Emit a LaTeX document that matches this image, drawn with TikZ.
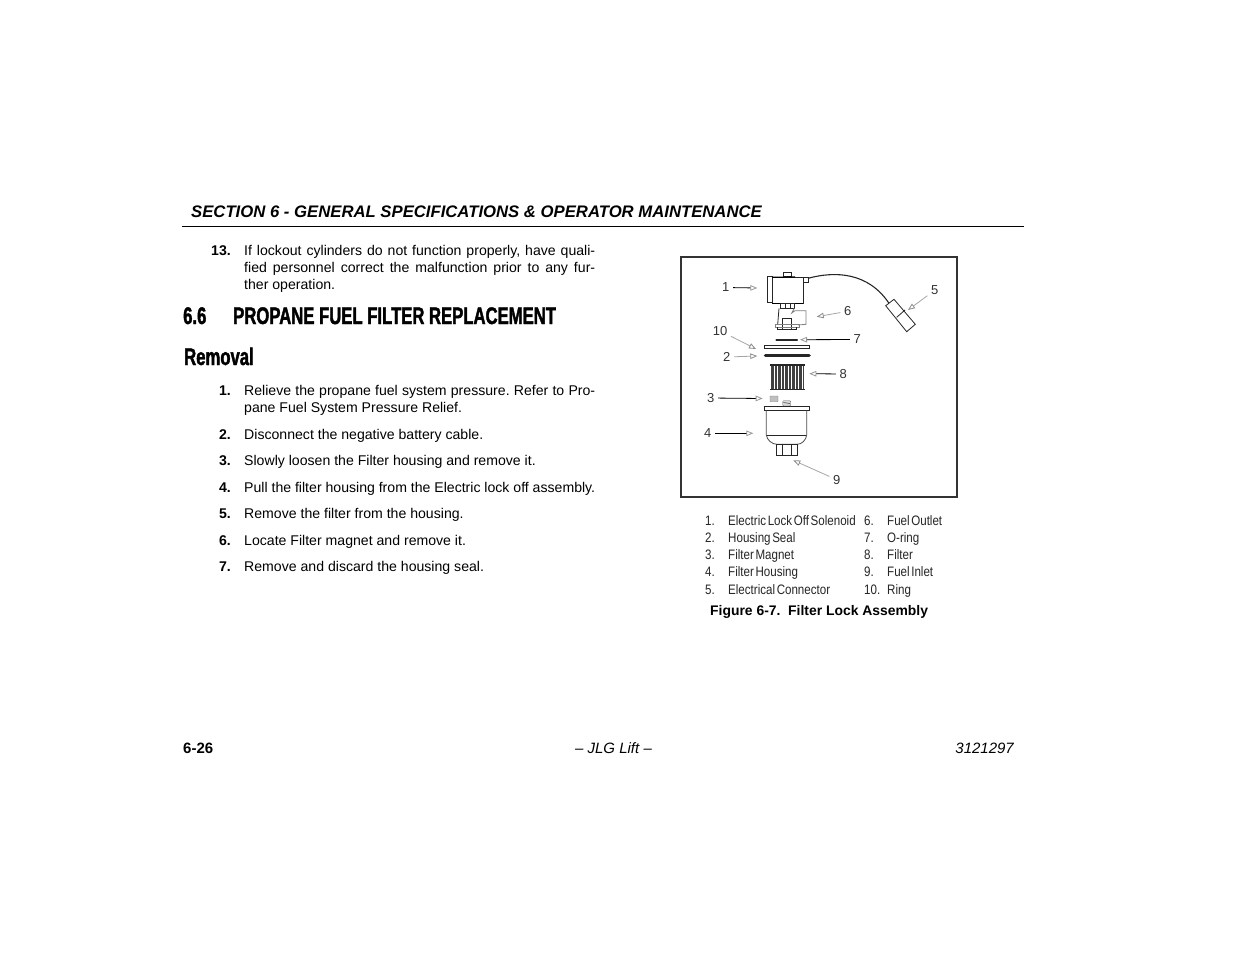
\documentclass[tikz,border=0pt]{standalone}
\usepackage{fontspec}
\setmainfont{Liberation Sans}
\frenchspacing
\newfontfamily\headfont[FakeStretch=0.695,BoldFeatures={FakeBold=1.6}]{Liberation Sans}
\newfontfamily\legendfont[FakeStretch=0.845,WordSpace=0.5]{Liberation Sans}
\usetikzlibrary{arrows.meta}
\tikzset{
    %Define standard text styles
    bodytext/.style={
           anchor=base west,
           inner sep=0pt,
           text width=351pt,
           align=justify,
           font=\fontsize{14.1}{17}\selectfont\frenchspacing},
    itemnum/.style={
           anchor=base east,
           inner sep=0pt,
           font=\fontsize{14.1}{17}\selectfont\bfseries},
    heading/.style={
           anchor=base west,
           inner sep=0pt,
           font=\fontsize{24}{27}\selectfont\headfont\bfseries},
    legend/.style={
           anchor=base west,
           inner sep=0pt,
           text=black!85,
           font=\fontsize{13.7}{16}\selectfont\legendfont},
    footer/.style={
           inner sep=0pt,
           font=\fontsize{15}{17}\selectfont},
    partlabel/.style={
           inner sep=3.5pt,
           text=black!80,
           font=\fontsize{13}{15}\selectfont},
    % Define arrow styles
    pil/.style={
           draw=black,
           line width=.8pt,
           -{Triangle[open,color=black!40,length=7pt,width=5.5pt]}},
    pilgray/.style={
           draw=black!35,
           line width=.8pt,
           -{Triangle[open,color=black!45,length=7pt,width=5.5pt]}},
    part/.style={draw=black!85,line width=.8pt},
    partgray/.style={draw=black!50,line width=.8pt}
}
\begin{document}
\begin{tikzpicture}[x=1pt,y=-1pt]
\useasboundingbox[fill=white] (0,0) rectangle (1235,954);

 %page head
\node[anchor=base west,inner sep=0pt,font=\fontsize{16.7}{19}\selectfont\bfseries\itshape] (sectionhead) at (191,217) {SECTION 6 - GENERAL SPECIFICATIONS \& OPERATOR MAINTENANCE};
\coordinate (ruleL) at (182,226.5);
\coordinate (ruleR) at (1024,226.5);
\draw[line width=1pt] (ruleL) -- (ruleR);

 %left column
\node[itemnum] (n13) at (231,255) {13.};
\node[bodytext] (t13) at (244,255) {If lockout cylinders do not function properly, have quali-\linebreak fied personnel correct the malfunction prior to any fur-\linebreak ther operation.};
\node[heading] (secnum) at (183,324) {6.6};
\node[heading] (sectitle) at (233,324) {PROPANE FUEL FILTER REPLACEMENT};
\node[heading] (removal) at (184,365) {Removal};
\node[itemnum] (n1) at (231,395) {1.};
\node[bodytext] (t1) at (244,395) {Relieve the propane fuel system pressure. Refer to Pro-\linebreak pane Fuel System Pressure Relief.};
\node[itemnum] (n2) at (231,439) {2.};
\node[bodytext] (t2) at (244,439) {Disconnect the negative battery cable.};
\node[itemnum] (n3) at (231,465) {3.};
\node[bodytext] (t3) at (244,465) {Slowly loosen the Filter housing and remove it.};
\node[itemnum] (n4) at (231,492) {4.};
\node[bodytext] (t4) at (244,492) {Pull the filter housing from the Electric lock off assembly.};
\node[itemnum] (n5) at (231,518) {5.};
\node[bodytext] (t5) at (244,518) {Remove the filter from the housing.};
\node[itemnum] (n6) at (231,545) {6.};
\node[bodytext] (t6) at (244,545) {Locate Filter magnet and remove it.};
\node[itemnum] (n7) at (231,571) {7.};
\node[bodytext] (t7) at (244,571) {Remove and discard the housing seal.};

 %figure frame
\draw[draw=black!80,line width=2pt] (681,256.5) rectangle (957,497);

 %solenoid
\draw[part] (772.3,277.3) rectangle (803.3,303.3);
\draw[part] (767.3,276.3) rectangle (772.3,302.7);
\draw[part] (783.3,272.3) rectangle (791.7,276.7);
\draw[part] (803.3,277.7) rectangle (808,282.3);
\draw[line width=1.2pt] (772.3,277.3) -- (795,277);
\draw[line width=1.2pt] (772.3,303.3) -- (803.3,303.3);
\draw[part] (780,303.3) rectangle (794.3,308.3);
\draw[part] (785,303.3) -- (785,308.3) (790,303.3) -- (790,308.3);
\draw[part] (779,308.3) -- (777.7,324.3);
\draw[partgray] (794.3,308.3) -- (791.7,313) -- (795,310.7) -- (806,310.7) -- (806,324.3) -- (798,325);
\draw[part] (782.3,329) -- (782.3,318.3) -- (791.7,318.3) -- (791.7,329);
\draw[partgray] (775,324.3) rectangle (799.3,327.3);
\draw[part] (777.7,327.3) -- (777.7,329.5) -- (796.7,329.5) -- (796.7,327.3);

 %cable and connector
\draw[line width=1.1pt,black!85] (808,278.3) .. controls (835,271) and (868,272) .. (889,303.3);
\draw[part] (885.7,305.7) -- (894,299.3) -- (915.3,324.3) -- (906.7,331.7) -- cycle;
\draw[part] (896.7,317.3) -- (905,310);

 %rings
\draw[line width=2.4pt,line cap=round,black!85] (776.5,340) -- (797,340);
\draw[part] (764.3,345.3) rectangle (809.7,348.7);
\draw[line width=3.6pt,line cap=round,black!85] (765.5,355.5) -- (809,355.5);

 %filter
\foreach \px in {771,772.4,...,804.5}
    \draw[black!75,line width=.7pt] (\px,366) -- (\px,389);
\draw[line width=1.5pt,black!85] (770,365) -- (805,365);
\draw[line width=1.5pt,black!85] (770,389.5) -- (805,389.5);

 %magnet and screw
\draw[black!50,fill=black!25,rounded corners=.5pt] (770,396) rectangle (778,401.7);
\draw[black!60,fill=black!15,rounded corners=1pt] (782.7,400.7) rectangle (790.7,406);
\draw[black!70,line width=.6pt] (783.5,402.5) -- (790,403.5);

 %housing
\draw[part] (764.3,406.3) rectangle (809.7,410.3);
\draw[draw=black!70,line width=.8pt] (766.3,410.3) -- (766.3,435) .. controls (767,440) and (772,444.3) .. (777,444.3) -- (797,444.3) .. controls (802,444.3) and (806,440) .. (806.7,435) -- (806.7,410.3);
\draw[line width=1pt,black!85] (766.5,435.3) -- (806,435.3);
\draw[part] (776.3,444.5) rectangle (797.7,455.7);
\draw[part] (782.3,444.5) -- (782.3,455.7) (791.7,444.5) -- (791.7,455.7);

 %part labels
\node[partlabel] (lab1) at (725.7,287.5) {1};
\node[partlabel] (lab2) at (726.7,357) {2};
\node[partlabel] (lab3) at (710.7,398) {3};
\node[partlabel] (lab4) at (707.7,433.3) {4};
\node[partlabel] (lab5) at (934.7,290.3) {5};
\node[partlabel] (lab6) at (847.7,311.3) {6};
\node[partlabel] (lab7) at (857.3,339.5) {7};
\node[partlabel] (lab8) at (843.3,374) {8};
\node[partlabel] (lab9) at (836.7,479.7) {9};
\node[partlabel] (lab10) at (720,330.7) {10};
\coordinate (tip1) at (757.3,288);
\coordinate (tip2) at (757.3,356);
\coordinate (tip3) at (762.7,398.5);
\coordinate (tip4) at (753.3,433.3);
\coordinate (tip5) at (908,310);
\coordinate (tip6) at (816.7,316.7);
\coordinate (tip7) at (800,339.7);
\coordinate (tip8) at (809.3,373.7);
\coordinate (tip9) at (793.3,460.3);
\coordinate (tip10) at (756,349);
\draw[pil] (lab1) -- (tip1);
\draw[pilgray] (lab2) -- (tip2);
\draw[pil] (lab3) -- (tip3);
\draw[pil] (lab4) -- (tip4);
\draw[pilgray] (lab5) -- (tip5);
\draw[pilgray] (lab6) -- (tip6);
\draw[pil] (lab7) -- (tip7);
\draw[pil] (lab8) -- (tip8);
\draw[pilgray] (lab9) -- (tip9);
\draw[pilgray] (lab10) -- (tip10);

 %legend
\node[legend] (ln1) at (705,525) {1.};
\node[legend] (lt1) at (728,525) {Electric Lock Off Solenoid};
\node[legend] (ln2) at (705,542) {2.};
\node[legend] (lt2) at (728,542) {Housing Seal};
\node[legend] (ln3) at (705,559) {3.};
\node[legend] (lt3) at (728,559) {Filter Magnet};
\node[legend] (ln4) at (705,576) {4.};
\node[legend] (lt4) at (728,576) {Filter Housing};
\node[legend] (ln5) at (705,594) {5.};
\node[legend] (lt5) at (728,594) {Electrical Connector};
\node[legend] (ln6) at (864,525) {6.};
\node[legend] (lt6) at (887,525) {Fuel Outlet};
\node[legend] (ln7) at (864,542) {7.};
\node[legend] (lt7) at (887,542) {O-ring};
\node[legend] (ln8) at (864,559) {8.};
\node[legend] (lt8) at (887,559) {Filter};
\node[legend] (ln9) at (864,576) {9.};
\node[legend] (lt9) at (887,576) {Fuel Inlet};
\node[legend] (ln10) at (864,594) {10.};
\node[legend] (lt10) at (887,594) {Ring};
\node[anchor=base west,inner sep=0pt,font=\fontsize{13.9}{17}\selectfont\bfseries] (caption) at (710,615) {Figure 6-7.\ \ Filter Lock Assembly};

 %page foot
\node[footer,anchor=base west,font=\fontsize{15}{17}\selectfont\bfseries] (pagenum) at (183,753) {6-26};
\node[footer,anchor=base,font=\fontsize{15}{17}\selectfont\itshape] (footmid) at (613.5,753) {-- JLG Lift --};
\node[footer,anchor=base east,font=\fontsize{15}{17}\selectfont\itshape] (docnum) at (1014,753) {3121297};
\end{tikzpicture}
\end{document}
